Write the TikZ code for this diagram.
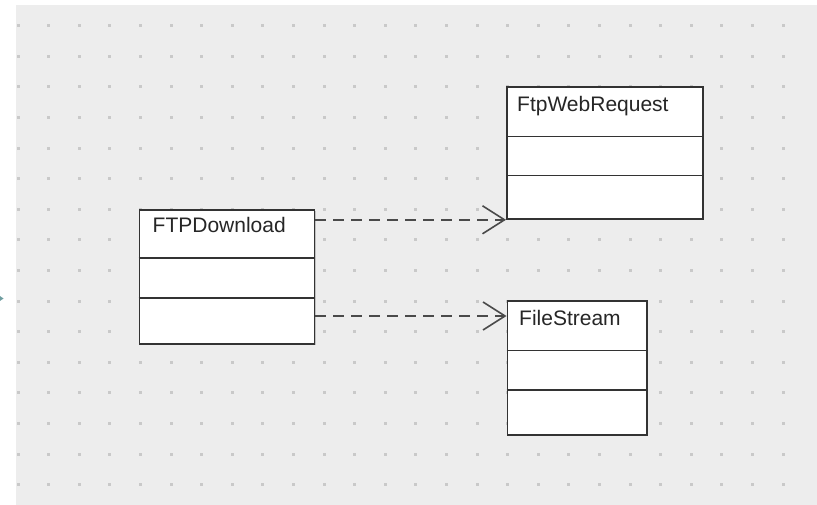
\documentclass[tikz,border=0pt]{standalone}
\usepackage{fontspec}
\setmainfont{Liberation Sans}
\usetikzlibrary{arrows.meta,calc,shadows}

\definecolor{canvas}{HTML}{EDEDED}
\definecolor{griddot}{HTML}{C9C9C9}
\definecolor{boxline}{HTML}{333333}
\definecolor{depline}{HTML}{4A4A4A}
\definecolor{handle}{HTML}{6E9DA0}

\tikzset{
  classbox/.style={draw=boxline, fill=white, line width=1.8pt, anchor=north west,
    inner sep=0pt, drop shadow={shadow xshift=1.3pt, shadow yshift=-1.3pt, opacity=0.4}},
  classname/.style={anchor=base west, inner sep=0pt, text=black!85,
    font=\fontsize{21}{24}\selectfont},
  divider/.style={draw=boxline, line width=1.6pt},
  dep/.style={draw=depline, line width=1.7pt, dash pattern=on 11pt off 7pt,
    -{Straight Barb[length=22pt, width=28pt, line width=1.6pt]}}
}

\begin{document}
\begin{tikzpicture}[x=1pt, y=-1pt]
    \useasboundingbox (0,0) rectangle (817,505);

    % canvas with dot grid
    \fill[canvas] (16,5) rectangle (817,505);
    \foreach \i in {0,...,25}
        \foreach \j in {0,...,15}
            \fill[griddot] ({18+30.6*\i-1.5},{25.7+30.6*\j-1.5}) rectangle +(3,3);
    \fill[handle] (-3,294) -- (3.5,298.5) -- (-3,303) -- cycle;

    % classes
    \node[classbox, minimum width=175pt, minimum height=134pt] (dl) at (138.5,209) {};
    \draw[divider] ($(dl.north west)+(0,49)$) -- ($(dl.north east)+(0,49)$);
    \draw[divider] ($(dl.north west)+(0,89)$) -- ($(dl.north east)+(0,89)$);
    \node[classname] (dlname) at ($(dl.north west)+(14,24)$) {FTPDownload};

    \node[classbox, minimum width=196pt, minimum height=132pt] (req) at (506,86) {};
    \draw[divider] ($(req.north west)+(0,50.5)$) -- ($(req.north east)+(0,50.5)$);
    \draw[divider] ($(req.north west)+(0,89.5)$) -- ($(req.north east)+(0,89.5)$);
    \node[classname] (reqname) at ($(req.north west)+(11,25.5)$) {FtpWebRequest};

    \node[classbox, minimum width=139.5pt, minimum height=134pt] (fs) at (506.5,300) {};
    \draw[divider] ($(fs.north west)+(0,50.5)$) -- ($(fs.north east)+(0,50.5)$);
    \draw[divider] ($(fs.north west)+(0,90)$) -- ($(fs.north east)+(0,90)$);
    \node[classname] (fsname) at ($(fs.north west)+(12.5,25.5)$) {FileStream};

    % dependencies
    \coordinate (fsin) at ($(fs.north west)+(0,16)$);
    \draw[dep] (dl.east |- req.south west) -- (req.south west);
    \draw[dep] (dl.east |- fsin) -- (fsin);
\end{tikzpicture}
\end{document}
